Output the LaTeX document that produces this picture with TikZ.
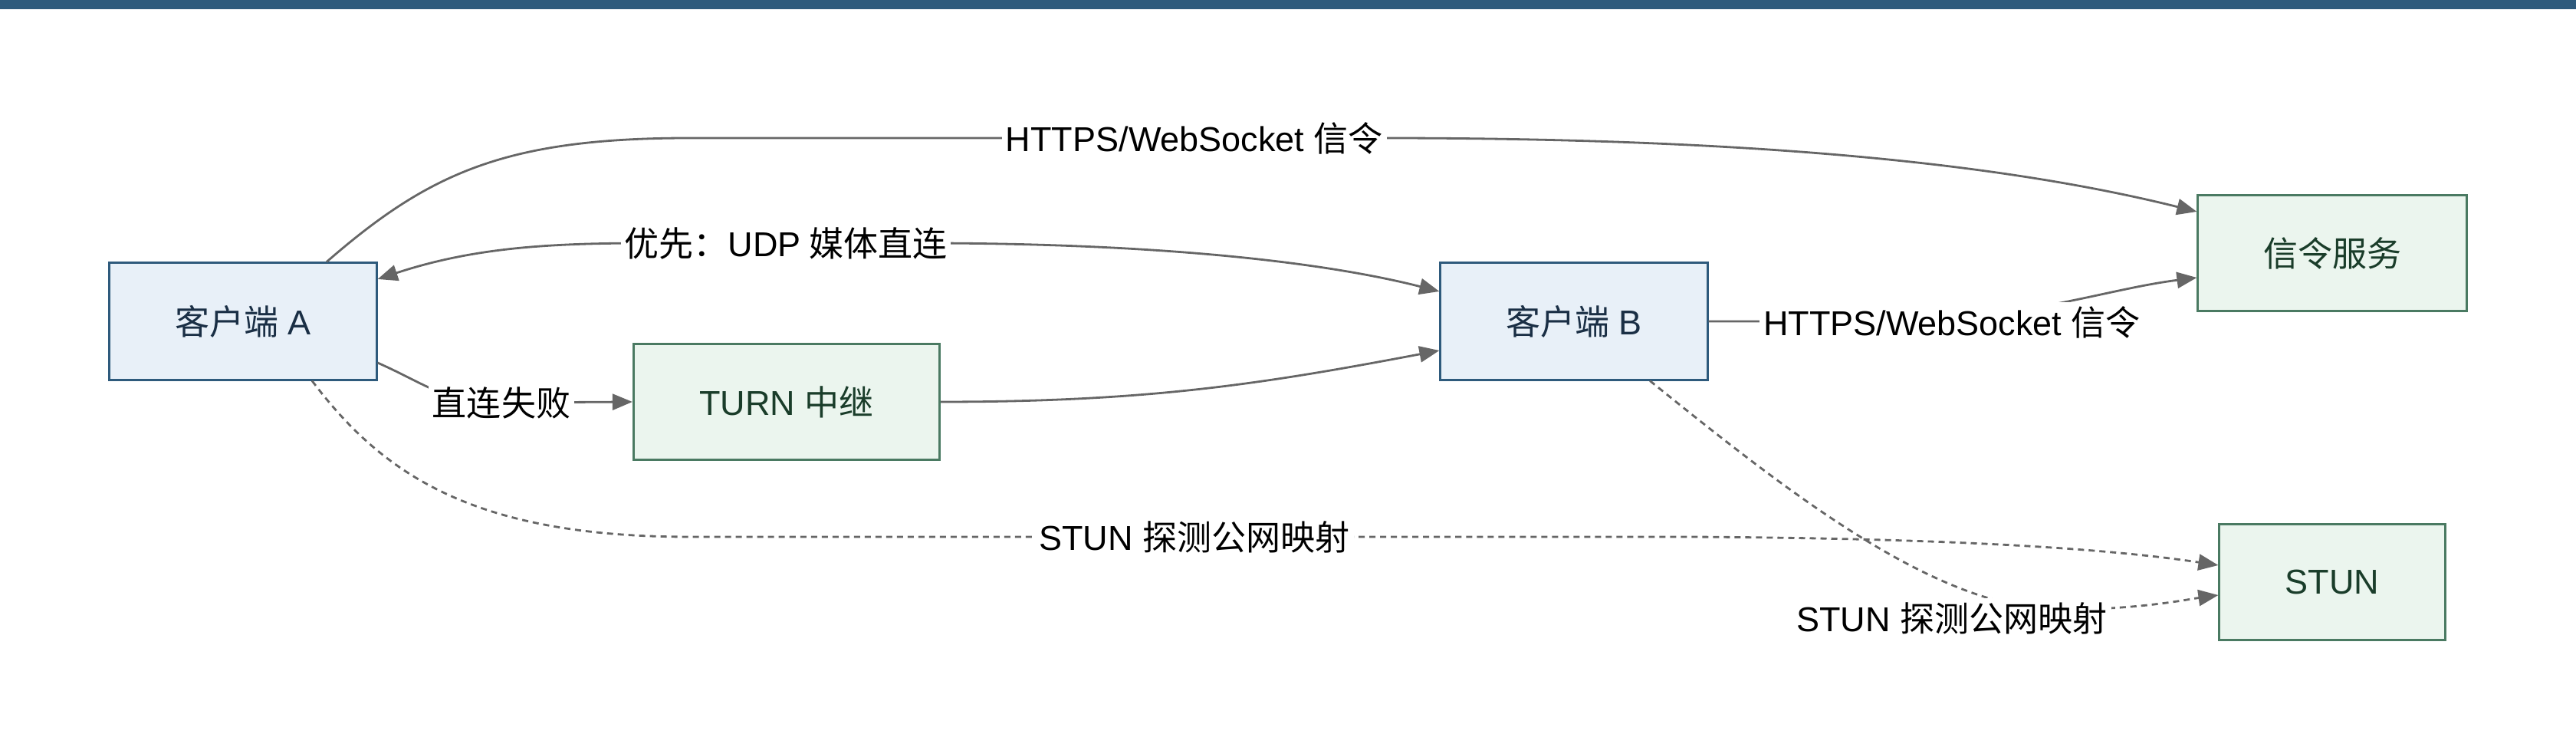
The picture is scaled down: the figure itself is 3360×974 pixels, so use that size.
\documentclass[tikz,border=0pt]{standalone}
\usepackage{fontspec}
\setmainfont{Liberation Sans}
\newfontfamily\cjk{Noto Sans CJK SC}
\usetikzlibrary{arrows.meta}
\definecolor{bar}{HTML}{2E5A7C}
\definecolor{bluefill}{HTML}{E8F0F8}
\definecolor{blueline}{HTML}{2E5A7C}
\definecolor{bluetext}{HTML}{1A2F45}
\definecolor{greenfill}{HTML}{EBF5EE}
\definecolor{greenline}{HTML}{4A7A62}
\definecolor{greentext}{HTML}{1A3D2A}
\definecolor{edgecol}{HTML}{666666}
\begin{document}
\begin{tikzpicture}[x=0.01cm,y=-0.01cm,
  >={Triangle[length=0.26cm,width=0.21cm]},
  every node/.style={font=\fontsize{12.8}{15}\selectfont, inner sep=0pt},
  client/.style={draw=blueline, fill=bluefill, text=bluetext, line width=0.03cm, minimum height=1.52cm},
  service/.style={draw=greenline, fill=greenfill, text=greentext, line width=0.03cm, minimum height=1.51cm},
  conn/.style={draw=edgecol, line width=0.028cm, ->},
  biconn/.style={draw=edgecol, line width=0.028cm, <->},
  probe/.style={conn, dash pattern=on 0.08cm off 0.06cm},
  lbl/.style={fill=white, text=black, inner sep=1.5pt},
]
\useasboundingbox (0,0) rectangle (3360,974);
\fill[bar] (0,0) rectangle (3360,12);

\node[client, minimum width=3.48cm] (A) at (317,419) {{\cjk 客户端} A};
\node[client, minimum width=3.48cm] (B) at (2053,419) {{\cjk 客户端} B};
\node[service, minimum width=3.99cm] (T) at (1026,524) {TURN {\cjk 中继}};
\node[service, minimum width=3.50cm] (S) at (3042,330) {\cjk 信令服务};
\node[service, minimum width=2.94cm] (U) at (3042,759) {STUN};

% A -> signalling
\draw[conn] ([xshift=1.09cm]A.north) .. controls (560,225) and (660,180) .. (900,180)
  -- node[lbl, pos=0.731] (l1) {HTTPS/WebSocket {\cjk 信令}} (1800,180)
  .. controls (2300,180) and (2620,215) .. ([yshift=0.54cm]S.west);

% A <-> B
\draw[biconn] ([yshift=0.55cm]A.east) .. controls (620,322) and (720,317) .. (850,317)
  -- node[lbl, pos=0.5] (l2) {\cjk 优先：{\fontspec{Liberation Sans}UDP} 媒体直连} (1200,317)
  .. controls (1500,317) and (1720,340) .. ([yshift=0.39cm]B.west);

% A -> TURN
\draw[conn] ([yshift=-0.54cm]A.east) .. controls (560,503) and (580,525) .. (654,525)
  node[lbl] (l3) {\cjk 直连失败} -- (T.west);

% TURN -> B
\draw[conn] (T.east) .. controls (1500,524) and (1650,500) .. ([yshift=-0.38cm]B.west);

% B -> signalling
\draw[conn] (B.east) -- (2440,419) .. controls (2640,419) and (2740,378) .. ([yshift=-0.32cm]S.west);
\node[lbl] (l5) at (2546,420) {HTTPS/WebSocket {\cjk 信令}};

% A -> STUN
\draw[probe] ([xshift=0.9cm]A.south) .. controls (500,620) and (620,700) .. (900,700)
  -- node[lbl, pos=0.506] (l6) {STUN {\cjk 探测公网映射}} (2200,700)
  .. controls (2600,702) and (2780,720) .. ([yshift=0.22cm]U.west);

% B -> STUN
\draw[probe] ([xshift=0.99cm]B.south) .. controls (2330,640) and (2520,790) .. (2680,795)
  .. controls (2790,795) and (2850,782) .. ([yshift=-0.17cm]U.west);
\node[lbl] (l7) at (2546,806) {STUN {\cjk 探测公网映射}};
\end{tikzpicture}
\end{document}
